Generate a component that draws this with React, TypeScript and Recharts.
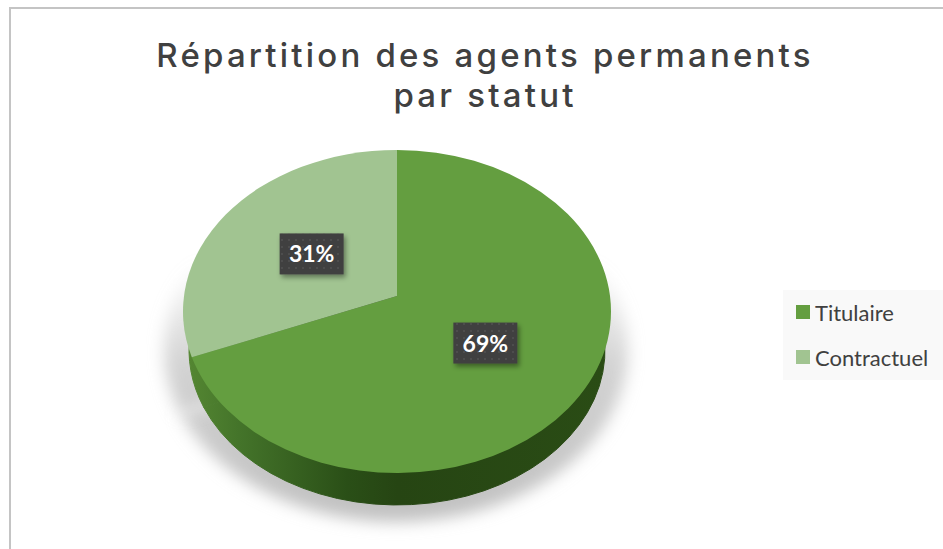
import React from "react";
import { PieChart, Pie, Cell, Legend } from "recharts";

const categories = ["Titulaire", "Contractuel"];
const shares = [69, 31];
const titleLines = ["Répartition des agents permanents", "par statut"];
const rows = categories.map((name, i) => ({ name, value: shares[i] }));

const COLORS = ["#649e40", "#a1c491"];
const FLATTEN = 0.755;
const LIFT = 15.5;

type S = any;
const sectorShape = (flatten: number, lift: number, fillFor?: (i: number) => string, extra?: S) => (p: S) => {
  const { cx, cy, outerRadius: r, startAngle, endAngle, fill, index } = p;
  const a = lift / (r * flatten);
  const edge = (deg: number) => {
    const t = (deg * Math.PI) / 180;
    const dx = Math.cos(t);
    const dy = Math.sin(t);
    const b = a * dy;
    const s = -b + Math.sqrt(b * b - (a * a - 1));
    return [cx + r * s * dx, cy - r * flatten * (a + s * dy)];
  };
  const [x0, y0] = edge(startAngle);
  const [x1, y1] = edge(endAngle);
  const large = Math.abs(endAngle - startAngle) > 180 ? 1 : 0;
  return (
    <path
      d={`M${cx},${cy - lift}L${x0},${y0}A${r},${r * flatten} 0 ${large} 1 ${x1},${y1}Z`}
      fill={fillFor ? fillFor(index) : fill}
      stroke="none"
      {...extra}
    />
  );
};

const renderBadge = (p: S) => {
  const { cx, cy, midAngle, value } = p;
  const t = (midAngle * Math.PI) / 180;
  const x = cx + 105 * Math.cos(t) + 1.5;
  const y = cy - LIFT - 105 * FLATTEN * Math.sin(t) + 3;
  return (
    <g>
      <rect x={x - 32} y={y - 21} width={64} height={41} fill="#404040" filter="url(#badgeShadow)" />
      <rect x={x - 32} y={y - 21} width={64} height={41} fill="url(#dots)" />
      <text x={x} y={y + 8} textAnchor="middle" fontFamily="Lato, sans-serif" fontWeight={700} fontSize={23} fill="#ffffff">
        {value}%
      </text>
    </g>
  );
};

const renderLegend = ({ payload }: S) => (
  <div style={{ width: 160, height: 90, background: "#f9f9f9", position: "relative" }}>
    {(payload || []).slice(-categories.length).map((e: S, i: number) => (
      <div key={e.value} style={{ position: "absolute", left: 13, top: 8 + i * 45, height: 28, display: "flex", alignItems: "center", whiteSpace: "nowrap" }}>
        <span style={{ width: 14, height: 14, background: e.color, marginRight: 5, display: "inline-block" }} />
        <span style={{ fontFamily: "Lato, sans-serif", fontSize: 22, color: "#404040" }}>{e.value}</span>
      </div>
    ))}
  </div>
);

export default function App() {
  return (
    <div style={{ position: "absolute", left: 0, top: 0, width: 943, height: 549, background: "#fff", overflow: "hidden" }}>
      <div style={{ position: "absolute", left: 9, top: 7, width: 940, height: 550, border: "2px solid #c4c4c4", boxSizing: "border-box" }} />
      <PieChart width={943} height={549} margin={{ top: 0, right: 0, bottom: 0, left: 0 }} style={{ position: "absolute", left: 0, top: 0 }}>
        <defs>
          <linearGradient id="sideFill" gradientUnits="userSpaceOnUse" x1="189" y1="0" x2="605" y2="0">
            <stop offset="0" stopColor="#548632" />
            <stop offset="0.12" stopColor="#44742a" />
            <stop offset="0.38" stopColor="#2a4f17" />
            <stop offset="0.5" stopColor="#264513" />
            <stop offset="1" stopColor="#2a4c15" />
          </linearGradient>
          <linearGradient id="shadowFill" gradientUnits="userSpaceOnUse" x1="0" y1="262" x2="0" y2="517">
            <stop offset="0" stopColor="#c8c8c8" stopOpacity="0" />
            <stop offset="0.4" stopColor="#c8c8c8" stopOpacity="0.8" />
            <stop offset="1" stopColor="#c0c0c0" stopOpacity="1" />
          </linearGradient>
          <filter id="blurShadow" x="-10%" y="-10%" width="120%" height="120%">
            <feGaussianBlur stdDeviation="8" />
          </filter>
          <filter id="badgeShadow" x="-20%" y="-20%" width="140%" height="150%">
            <feDropShadow dx="2" dy="3" stdDeviation="2.5" floodColor="#000" floodOpacity="0.4" />
          </filter>
          <pattern id="dots" width="7" height="7" patternUnits="userSpaceOnUse">
            <circle cx="2" cy="2" r="0.8" fill="#5c5c5c" />
          </pattern>
          <clipPath id="shadowClip" clipPathUnits="userSpaceOnUse">
            <rect x="0" y="0" width="943" height="517" />
          </clipPath>
        </defs>

        <Pie data={rows} dataKey="value" nameKey="name" cx={396} cy={350} outerRadius={232} startAngle={90} endAngle={-270}
          legendType="none" isAnimationActive={false}
          shape={sectorShape(0.74, 0, () => "url(#shadowFill)", { filter: "url(#blurShadow)" })} />
        <Pie data={rows} dataKey="value" nameKey="name" cx={397} cy={350} outerRadius={208} startAngle={90} endAngle={-270}
          legendType="none" isAnimationActive={false}
          shape={sectorShape(0.745, 0, () => "url(#sideFill)", { stroke: "url(#sideFill)", strokeWidth: 1 })} />
        <Pie data={rows} dataKey="value" nameKey="name" cx={397} cy={311.5} outerRadius={214} startAngle={90} endAngle={-270}
          isAnimationActive={false} shape={sectorShape(FLATTEN, LIFT)} label={renderBadge} labelLine={false}>
          {rows.map((r, i) => (
            <Cell key={r.name} fill={COLORS[i]} />
          ))}
        </Pie>

        {titleLines.map((line, i) => (
          <text key={line} x={485} y={67 + i * 40} textAnchor="middle" fontFamily="Inter, sans-serif" fontWeight={500} fontSize={33} letterSpacing={3.2} fill="#404040">
            {line}
          </text>
        ))}
        <Legend content={renderLegend} itemSorter={null} layout="vertical" wrapperStyle={{ position: "absolute", left: 783, top: 290, width: 160, height: 90 }} />
      </PieChart>
    </div>
  );
}
